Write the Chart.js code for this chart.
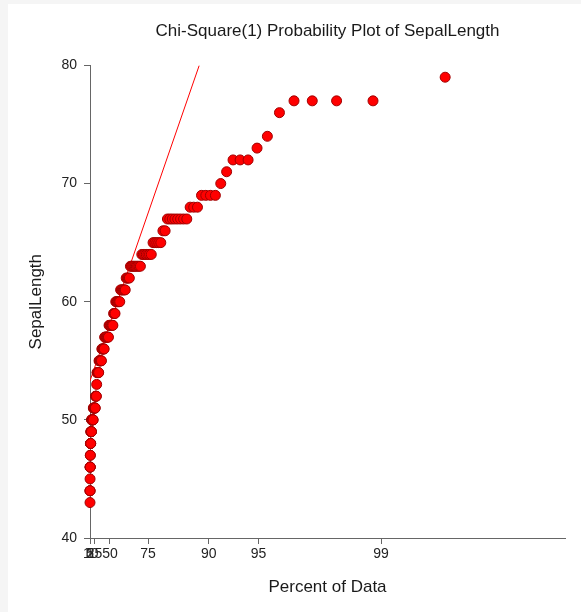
<!DOCTYPE html>
<html>
<head>
<meta charset="utf-8">
<title>Chi-Square(1) Probability Plot of SepalLength</title>
<script src="https://cdn.jsdelivr.net/npm/chart.js@4.4.1/dist/chart.umd.min.js"></script>
<style>
  html, body { margin: 0; padding: 0; background: #f5f5f5; }
  #panel { position: absolute; left: 8px; top: 4px; width: 573px; height: 608px; background: #ffffff; }
</style>
</head>
<body>
<div id="panel"><canvas id="plot" width="573" height="608"></canvas></div>
<script>
// sorted sepal lengths (mm), one entry per flower
const sepalLength = [
  43,
  44, 44, 44,
  45,
  46, 46, 46, 46,
  47, 47,
  48, 48, 48, 48, 48,
  49, 49, 49, 49, 49, 49,
  50, 50, 50, 50, 50, 50, 50, 50, 50, 50,
  51, 51, 51, 51, 51, 51, 51, 51, 51,
  52, 52, 52, 52,
  53,
  54, 54, 54, 54, 54, 54,
  55, 55, 55, 55, 55, 55, 55,
  56, 56, 56, 56, 56, 56,
  57, 57, 57, 57, 57, 57, 57, 57,
  58, 58, 58, 58, 58, 58, 58,
  59, 59, 59,
  60, 60, 60, 60, 60, 60,
  61, 61, 61, 61, 61, 61,
  62, 62, 62, 62,
  63, 63, 63, 63, 63, 63, 63, 63, 63,
  64, 64, 64, 64, 64, 64, 64,
  65, 65, 65, 65, 65,
  66, 66,
  67, 67, 67, 67, 67, 67, 67, 67,
  68, 68, 68,
  69, 69, 69, 69,
  70, 71, 72, 72, 72, 73, 74, 76,
  77, 77, 77, 77,
  79
];

// chi-square(1) quantile of each rank's plotting position
const chiQuantile = [
  0.00003, 0.0002, 0.0005, 0.0009, 0.0015, 0.0022, 0.0031, 0.0041, 0.0052, 0.0065,
  0.0079, 0.0095, 0.0112, 0.0130, 0.0150, 0.0172, 0.0194, 0.0219, 0.0244, 0.0271,
  0.0300, 0.0330, 0.0361, 0.0394, 0.0429, 0.0465, 0.0503, 0.0542, 0.0582, 0.0625,
  0.0668, 0.0714, 0.0761, 0.0809, 0.0859, 0.0911, 0.0965, 0.1020, 0.1077, 0.1135,
  0.1196, 0.1258, 0.1322, 0.1387, 0.1455, 0.1524, 0.1595, 0.1668, 0.1743, 0.1820,
  0.1899, 0.1980, 0.2063, 0.2148, 0.2235, 0.2325, 0.2416, 0.2509, 0.2605, 0.2703,
  0.2804, 0.2907, 0.3012, 0.3119, 0.3229, 0.3342, 0.3457, 0.3575, 0.3696, 0.3819,
  0.3945, 0.4074, 0.4206, 0.4341, 0.4479, 0.4620, 0.4765, 0.4913, 0.5064, 0.5218,
  0.5376, 0.5538, 0.5704, 0.5873, 0.6047, 0.6224, 0.6406, 0.6592, 0.6782, 0.6978,
  0.7178, 0.7382, 0.7592, 0.7807, 0.8027, 0.8254, 0.8485, 0.8723, 0.8967, 0.9218,
  0.9474, 0.9739, 1.0011, 1.0289, 1.0577, 1.0872, 1.1175, 1.1489, 1.1811, 1.2142,
  1.2486, 1.2839, 1.3203, 1.3581, 1.3970, 1.4372, 1.4791, 1.5224, 1.5671, 1.6139,
  1.6622, 1.7124, 1.7651, 1.8198, 1.8766, 1.9367, 1.9992, 2.0646, 2.1340, 2.2066,
  2.2830, 2.3639, 2.4501, 2.5418, 2.6399, 2.7450, 2.8582, 2.9807, 3.1144, 3.2607,
  3.4227, 3.6040, 3.8081, 4.0432, 4.3187, 4.6505, 5.0667, 5.6212, 6.4514, 8.0961
];

// percent labels on the x axis and where they sit on the chi-square scale
const pctTicks = [1, 5, 10, 25, 50, 75, 90, 95, 99];
const pctTickPos = [0.000157, 0.003932, 0.015791, 0.101531, 0.454936, 1.323304, 2.705543, 3.841459, 6.634897];
const xMax = 10.828; // 99.9 %

// fitted reference line
const refLineX = [0, 2.49];
const refLineY = [53.3, 80];

const yTicks = [40, 50, 60, 70, 80];

const points = sepalLength.map((v, i) => ({ x: chiQuantile[i], y: v }));
const refLine = refLineX.map((x, i) => ({ x: x, y: refLineY[i] }));

const textFont = 'Liberation Sans, Arial, Helvetica, sans-serif';
const axisColor = '#666666';

new Chart(document.getElementById('plot'), {
  type: 'scatter',
  data: {
    datasets: [
      {
        data: points,
        backgroundColor: '#ff0000',
        borderColor: '#a00000',
        borderWidth: 1,
        pointRadius: 5,
        pointHoverRadius: 5,
        clip: false
      },
      {
        type: 'line',
        data: refLine,
        borderColor: '#ff0000',
        borderWidth: 1,
        pointRadius: 0,
        fill: false,
        tension: 0
      }
    ]
  },
  options: {
    responsive: false,
    animation: false,
    events: [],
    layout: { padding: { left: 0, right: 16, top: 0, bottom: 0 } },
    plugins: {
      legend: { display: false },
      tooltip: { enabled: false },
      title: {
        display: true,
        fullSize: false,
        text: 'Chi-Square(1) Probability Plot of SepalLength',
        color: '#1a1a1a',
        font: { family: textFont, size: 17, weight: 'normal' },
        padding: { top: 17, bottom: 24 }
      }
    },
    scales: {
      x: {
        type: 'linear',
        min: 0,
        max: xMax,
        afterFit: s => { s.height = 74; },
        afterBuildTicks: s => { s.ticks = pctTickPos.map(v => ({ value: v })); },
        ticks: {
          autoSkip: false,
          maxRotation: 0,
          padding: 2,
          color: '#222222',
          font: { family: textFont, size: 14 },
          callback: (v, i) => pctTicks[i]
        },
        grid: { drawOnChartArea: false, drawTicks: true, tickLength: 6, color: axisColor },
        border: { color: axisColor, width: 1 },
        title: {
          display: true,
          text: 'Percent of Data',
          color: '#1a1a1a',
          font: { family: textFont, size: 17 },
          padding: { top: 0, bottom: 14 }
        }
      },
      y: {
        min: 40,
        max: 80,
        afterFit: s => { s.width = 82; },
        afterBuildTicks: s => { s.ticks = yTicks.map(v => ({ value: v })); },
        ticks: {
          padding: 7,
          color: '#222222',
          font: { family: textFont, size: 14 }
        },
        grid: { drawOnChartArea: false, drawTicks: true, tickLength: 6, color: axisColor },
        border: { color: axisColor, width: 1 },
        title: {
          display: true,
          text: 'SepalLength',
          color: '#1a1a1a',
          font: { family: textFont, size: 17 },
          padding: { top: 18, bottom: 0 }
        }
      }
    }
  }
});
</script>
</body>
</html>
